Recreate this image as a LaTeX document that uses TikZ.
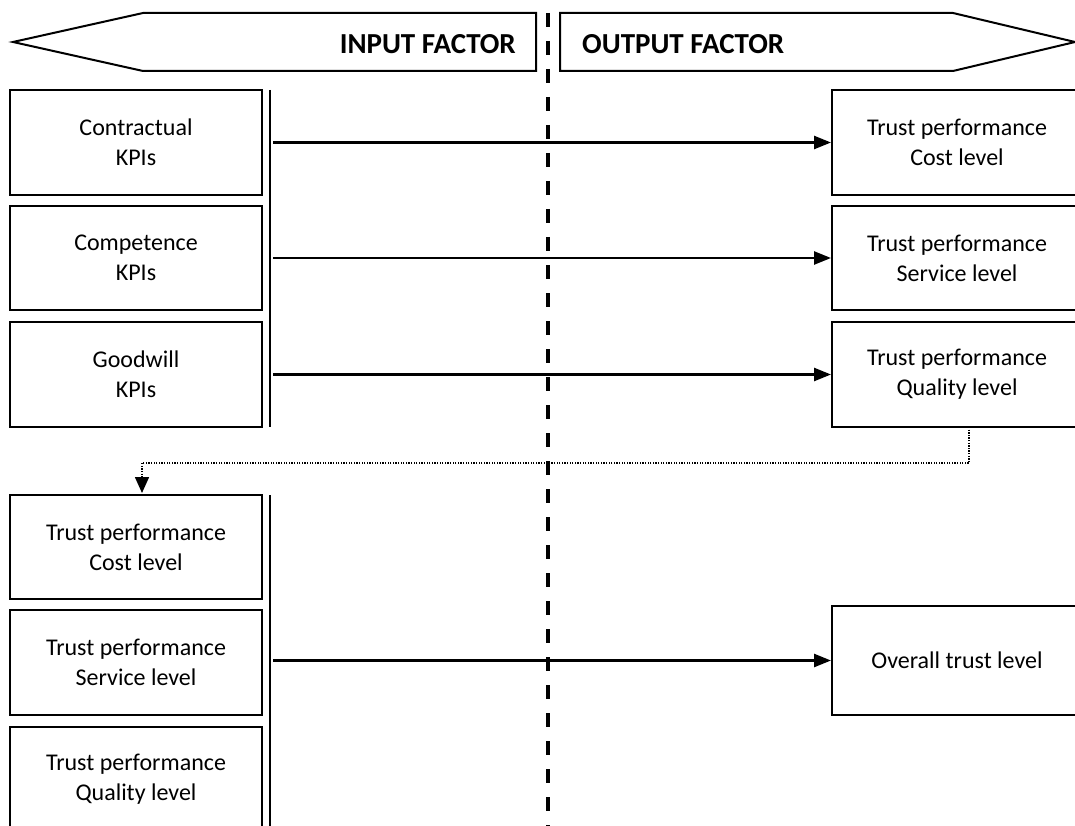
\documentclass[tikz,border=0pt]{standalone}
\usepackage{fontspec}
\setmainfont{Carlito}
\usetikzlibrary{arrows.meta,calc}
\begin{document}
\begin{tikzpicture}[x=1pt,y=-1pt,
  box/.style={draw,line width=2pt,minimum width=252pt,inner sep=0pt,align=center,
    font=\fontsize{24}{30}\selectfont},
  banner/.style={draw,line width=2pt,line join=miter},
  title/.style={font=\fontsize{29}{32}\selectfont\bfseries,inner sep=0pt},
  bar/.style={line width=2pt},
  arr/.style={line width=2.5pt,-{Triangle[length=17pt,width=13pt]}},
  dotarr/.style={line width=1.6pt,dash pattern=on 1.3pt off 1.3pt,-{Triangle[length=16pt,width=14pt]}},
  divider/.style={line width=4pt,dash pattern=on 14pt off 14pt}]
\useasboundingbox (0,0) rectangle (1075,826);
\clip (0,0) rectangle (1075,826);
% banners
\draw[banner] (13,42) -- (143,13) -- (536,13) -- (536,71) -- (143,71) -- cycle;
\draw[banner] (560,13) -- (953,13) -- (1075,42) -- (953,71) -- (560,71) -- cycle;
\node[title,anchor=east] (inp) at (516,44) {INPUT FACTOR};
\node[title,anchor=west] (outp) at (582,44) {OUTPUT FACTOR};
% divider
\coordinate (dtop) at (548,13);
\coordinate (dbot) at (548,840);
\draw[divider] (dtop) -- (dbot);
% left input boxes
\node[box,minimum height=105pt] (l1) at (136,142.5) {Contractual\\KPIs};
\node[box,minimum height=104pt] (l2) at (136,258) {Competence\\KPIs};
\node[box,minimum height=105pt] (l3) at (136,374.5) {Goodwill\\KPIs};
% right output boxes
\node[box,minimum width=250pt,minimum height=105pt] (r1) at (957,142.5) {Trust performance\\Cost level};
\node[box,minimum width=250pt,minimum height=104pt] (r2) at (957,258) {Trust performance\\Service level};
\node[box,minimum width=250pt,minimum height=105pt] (r3) at (957,374.5) {Trust performance\\Quality level};
% lower left boxes
\node[box,minimum height=104pt] (m1) at (136,547) {Trust performance\\Cost level};
\node[box,minimum height=105pt] (m2) at (136,662.5) {Trust performance\\Service level};
\node[box,minimum height=105pt] (m3) at (136,779.5) {Trust performance\\Quality level};
\node[box,minimum width=250pt,minimum height=109pt] (ov) at (957,660.5) {Overall trust level};
% bars
\coordinate (b1t) at (270,90);
\coordinate (b1b) at (270,427);
\coordinate (b2t) at (270,495);
\coordinate (b2b) at (270,840);
\draw[bar] (b1t) -- (b1b);
\draw[bar] (b2t) -- (b2b);
% arrows
\coordinate (ax) at (273,0);
\draw[arr] (r1.west -| ax) -- (r1.west);
\draw[arr] (r2.west -| ax) -- (r2.west);
\draw[arr] (r3.west -| ax) -- (r3.west);
\draw[arr] (ov.west -| ax) -- (ov.west);
% dotted feedback
\coordinate (fs) at (969,427);
\coordinate (fe) at (142,493);
\draw[dotarr] (fs) -- (969,463) -- (142,463) -- (fe);
\end{tikzpicture}
\end{document}
